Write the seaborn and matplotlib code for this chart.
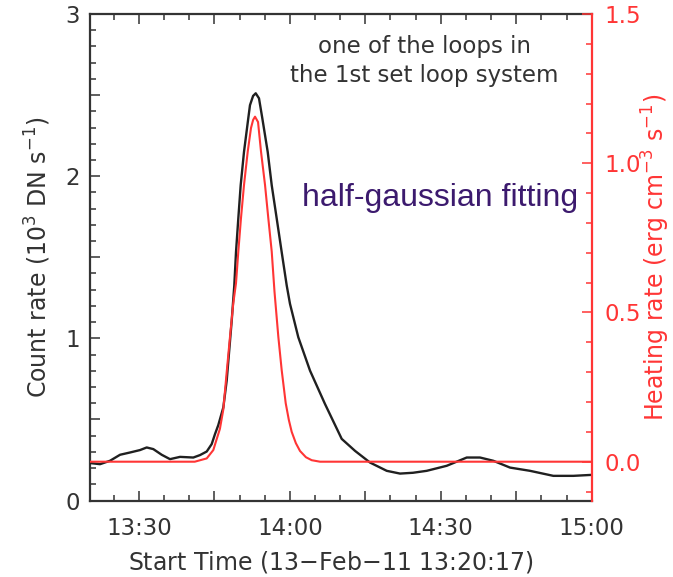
import matplotlib
matplotlib.use("Agg")
import matplotlib.pyplot as plt
import seaborn as sns
import numpy as np
import pandas as pd
from matplotlib.ticker import MultipleLocator, FuncFormatter

# time in minutes after 13:00 (13-Feb-2011)
count_time = [20.28, 22.27, 24.26, 26.25, 28.23, 30.22, 31.55, 32.86, 34.53, 36.18, 38.17, 40.81,
              42.14, 43.48, 44.47, 45.13, 45.78, 46.78, 47.45, 48.45, 48.96, 49.30, 49.76, 50.23,
              50.89, 51.74, 52.08, 52.7, 53.22, 53.87, 54.53, 55.60, 56.40, 57.39, 58.38, 59.38,
              60.03, 61.68, 64.01, 66.99, 70.31, 72.96, 75.94, 79.26, 81.90, 84.48, 87.21, 91.18,
              95.16, 97.80, 100.44, 103.76, 107.74, 112.37, 116.35, 120.0]
# count rate (10^3 DN/s)
count_rate = [0.231, 0.224, 0.245, 0.282, 0.296, 0.311, 0.327, 0.317, 0.282, 0.255, 0.269, 0.265,
              0.280, 0.302, 0.348, 0.410, 0.465, 0.574, 0.739, 1.110, 1.326, 1.532, 1.740, 1.944,
              2.150, 2.357, 2.438, 2.495, 2.511, 2.480, 2.357, 2.150, 1.944, 1.739, 1.532, 1.326,
              1.213, 1.007, 0.801, 0.595, 0.380, 0.306, 0.234, 0.183, 0.166, 0.171, 0.183, 0.214,
              0.265, 0.265, 0.245, 0.203, 0.183, 0.152, 0.152, 0.158]

heat_time = [20.28, 41.1, 43.48, 44.79, 45.45, 46.1, 46.78, 47.45, 48.11, 48.76, 49.30, 49.76,
             50.29, 50.89, 51.63, 52.28, 52.7, 53.08, 53.68, 54.27, 55.07, 55.72, 56.40, 56.95,
             57.71, 58.38, 59.18, 59.8, 60.37, 61.2, 62.02, 63.2, 64.35, 66.0, 120.0]
# heating rate (erg cm^-3 s^-1)
heat_rate = [0.0, 0.0, 0.011, 0.039, 0.075, 0.110, 0.175, 0.300, 0.419, 0.531, 0.598, 0.704,
             0.816, 0.927, 1.039, 1.118, 1.145, 1.156, 1.138, 1.039, 0.927, 0.816, 0.704, 0.570,
             0.419, 0.307, 0.196, 0.140, 0.100, 0.062, 0.036, 0.015, 0.005, 0.0, 0.0]

x_ticks_lab = {30: "13:30", 60: "14:00", 90: "14:30", 120: "15:00"}

grey = "#333333"
red = "#ff3535"

sns.set_style("ticks")
plt.rcParams["font.family"] = ["DejaVu Sans"]

fig = plt.figure(figsize=(6.73, 5.77), dpi=100)
ax = fig.add_axes([90 / 673, 1 - 500.5 / 577, 501.7 / 673, 486.5 / 577])
ax2 = ax.twinx()

df1 = pd.DataFrame({"t": count_time, "c": count_rate})
df2 = pd.DataFrame({"t": heat_time, "h": heat_rate})
sns.lineplot(data=df1, x="t", y="c", ax=ax, color="#202020", lw=1.7, zorder=3)
sns.lineplot(data=df2, x="t", y="h", ax=ax2, color=red, lw=1.5)

ax.set_xlim(20.28, 120)
ax.set_ylim(0, 3)
ax2.set_ylim(-0.13, 1.5)

# x axis
ax.xaxis.set_major_locator(MultipleLocator(15))
ax.xaxis.set_minor_locator(MultipleLocator(5))
ax.xaxis.set_major_formatter(FuncFormatter(lambda v, p: x_ticks_lab.get(int(round(v)), "")))
# left axis
ax.yaxis.set_major_locator(MultipleLocator(0.5))
ax.yaxis.set_minor_locator(MultipleLocator(0.1))
ax.yaxis.set_major_formatter(FuncFormatter(lambda v, p: "%d" % v if abs(v - round(v)) < 1e-6 else ""))
# right axis
ax2.yaxis.set_major_locator(MultipleLocator(0.5))
ax2.yaxis.set_minor_locator(MultipleLocator(0.1))
ax2.yaxis.set_major_formatter(FuncFormatter(lambda v, p: "%.1f" % v))

ax.tick_params(which="both", direction="in", top=True, right=False, color=grey,
               labelcolor=grey, labelsize=16.5, width=1.1)
ax.tick_params(which="major", length=7)
ax.tick_params(which="minor", length=4)
ax.tick_params(axis="x", pad=12)
ax.tick_params(axis="y", pad=7)
ax2.tick_params(which="both", direction="in", color=red, labelcolor=red,
                labelsize=16.5, width=1.1, pad=9)
ax2.tick_params(which="major", length=7)
ax2.tick_params(which="minor", length=4)

for s in ["left", "bottom", "top"]:
    ax.spines[s].set_color(grey)
    ax.spines[s].set_linewidth(1.6)
ax.spines["right"].set_visible(False)
ax2.spines["left"].set_visible(False)
ax2.spines["top"].set_visible(False)
ax2.spines["bottom"].set_visible(False)
ax2.spines["right"].set_color(red)
ax2.spines["right"].set_linewidth(1.6)

ax.set_xlabel("Start Time (13$-$Feb$-$11 13:20:17)", fontsize=17, color=grey)
ax.xaxis.set_label_coords(0.48, -0.100)
ax.set_ylabel("Count rate (10$^3$ DN s$^{-1}$)", fontsize=17, color=grey)
ax.yaxis.label.set_va("center")
ax.yaxis.set_label_coords(-0.104, 0.5)
ax2.set_ylabel("Heating rate (erg cm$^{-3}$ s$^{-1}$)", fontsize=17, color=red, rotation=90)
ax2.yaxis.label.set_va("center")
ax2.yaxis.set_label_coords(1.128, 0.5)

ax.text(0.666, 0.904, "one of the loops in\nthe 1st set loop system", transform=ax.transAxes,
        ha="center", va="center", fontsize=16.5, color=grey, linespacing=1.35)
ax.text(0.973, 0.622, "half-gaussian fitting", transform=ax.transAxes, ha="right", va="center",
        fontsize=23, color="#3c1a6e", family=["Liberation Sans"])

fig.savefig("out.png", dpi=100)
